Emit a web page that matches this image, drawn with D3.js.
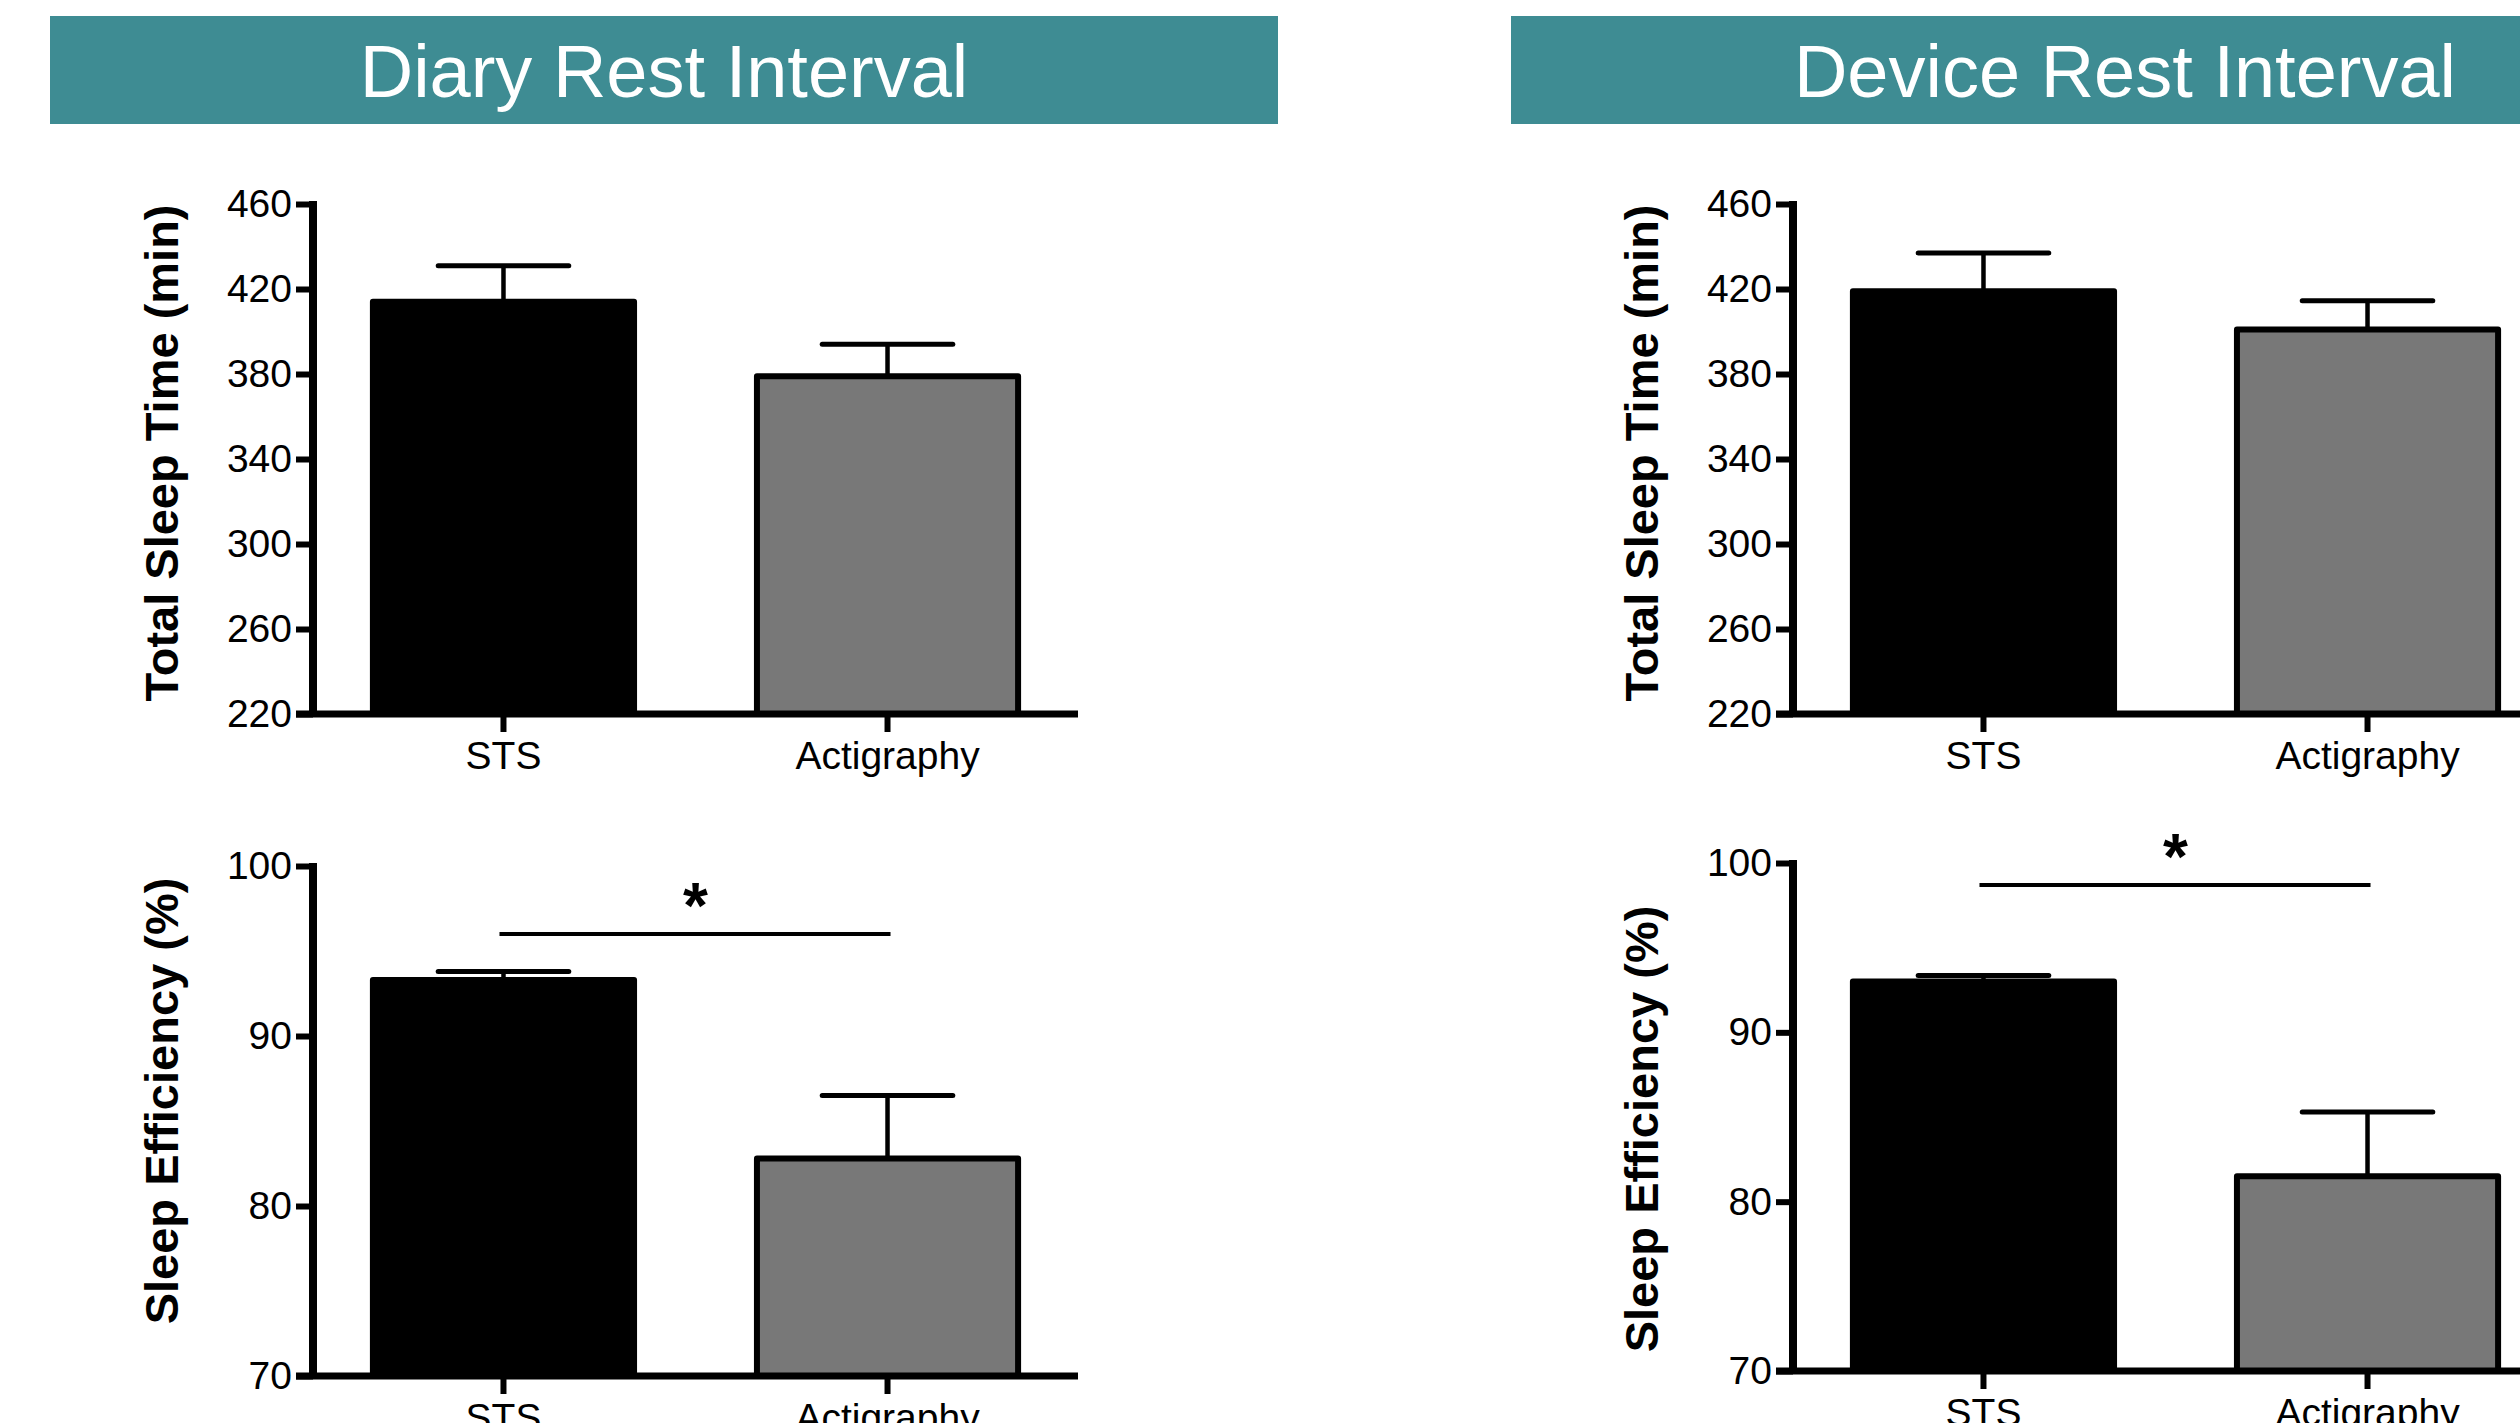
<html>
<head>
    <style>
        body { margin: 0; background: #fff; }
        svg { display: block; }
        .narrow { font-family: "Liberation Sans Narrow", "Arial Narrow", "Liberation Sans", sans-serif; }
    </style>
    <script src="https://cdn.jsdelivr.net/npm/d3@7"></script>
</head>
<body>
    <svg id="container" width="2520" height="1423"></svg>
</body>
<script>
    // values
    let panels = ["Diary Rest Interval", "Device Rest Interval"]
    let categories = ["STS", "Actigraphy"]

    let tstTicks = [220, 260, 300, 340, 380, 420, 460]
    let seTicks = [70, 80, 90, 100]

    let tstDiary = [414, 379]
    let tstDiarySem = [17, 15]
    let tstDevice = [419, 401]
    let tstDeviceSem = [18, 13.5]

    let seDiary = [93.3, 82.8]
    let seDiarySem = [0.5, 3.7]
    let seDevice = [93.0, 81.5]
    let seDeviceSem = [0.35, 3.8]

    // significance bar level (in %) above the sleep efficiency bars
    let seSigLevel = [96.0, 98.7]

    let barColors = ["#000000", "#787878"]

    let svg = d3.select("#container")

    // banners
    let bannerX = [50, 1511]
    let bannerW = 1228
    panels.forEach((p, i) => {
        svg.append("rect")
            .attr("x", bannerX[i]).attr("y", 16)
            .attr("width", bannerW).attr("height", 108)
            .attr("fill", "#3e8c93")
        svg.append("text")
            .attr("class", "narrow")
            .attr("x", bannerX[i] + bannerW / 2).attr("y", 97)
            .attr("text-anchor", "middle")
            .attr("fill", "#fff")
            .attr("font-size", 74)
            .text(p)
    })

    let plotW = 765

    function drawPanel(opt) {
        let g = svg.append("g").attr("transform", "translate(" + opt.x + " " + opt.top + ")")
        let h = opt.h

        let x = d3.scaleBand()
            .domain(categories)
            .range([0, plotW])
            .paddingInner(0.32)
            .paddingOuter(0.156)

        let y = d3.scaleLinear()
            .domain(d3.extent(opt.ticks))
            .range([h, 0])

        let bars = categories.map((c, i) => ({ cat: c, v: opt.values[i], sem: opt.sem[i], color: barColors[i] }))

        // bars
        g.selectAll(".bar")
            .data(bars)
            .enter()
            .append("rect")
            .attr("x", d => x(d.cat))
            .attr("y", d => y(d.v))
            .attr("width", x.bandwidth())
            .attr("height", d => h - y(d.v))
            .attr("fill", d => d.color)
            .attr("stroke", "#000")
            .attr("stroke-width", 6)
            .attr("stroke-linejoin", "round")

        // error bars (upper only)
        let cap = x.bandwidth() * 0.5
        let eb = g.selectAll(".err").data(bars).enter().append("g")
        eb.append("line")
            .attr("x1", d => x(d.cat) + x.bandwidth() / 2)
            .attr("x2", d => x(d.cat) + x.bandwidth() / 2)
            .attr("y1", d => y(d.v))
            .attr("y2", d => y(d.v + d.sem))
            .attr("stroke", "#000").attr("stroke-width", 4.5)
        eb.append("line")
            .attr("x1", d => x(d.cat) + x.bandwidth() / 2 - cap / 2)
            .attr("x2", d => x(d.cat) + x.bandwidth() / 2 + cap / 2)
            .attr("y1", d => y(d.v + d.sem))
            .attr("y2", d => y(d.v + d.sem))
            .attr("stroke", "#000").attr("stroke-width", 5)
            .attr("stroke-linecap", "round")

        // axes
        let yAxis = g.append("g")
            .call(d3.axisLeft(y).tickValues(opt.ticks).tickSize(17).tickPadding(4).tickFormat(d3.format("d")))
        let xAxis = g.append("g")
            .attr("transform", "translate(0 " + h + ")")
            .call(d3.axisBottom(x).tickSize(18).tickPadding(9))

        ;[yAxis, xAxis].forEach(a => {
            a.select(".domain").remove()
            a.selectAll("line").attr("stroke", "#000").attr("stroke-width", 6)
            a.selectAll("text")
                .attr("class", "narrow")
                .attr("font-size", 39)
                .attr("fill", "#000")
            a.attr("font-family", null).attr("font-size", null)
        })
        g.append("line")
            .attr("x1", 0).attr("x2", 0).attr("y1", -3).attr("y2", h + 3)
            .attr("stroke", "#000").attr("stroke-width", 8)
        g.append("line")
            .attr("x1", -17).attr("x2", plotW).attr("y1", h).attr("y2", h)
            .attr("stroke", "#000").attr("stroke-width", 7)

        // y title
        g.append("text")
            .attr("transform", "translate(" + (-135) + " " + (h / 2 + opt.titleShift) + ") rotate(-90)")
            .attr("text-anchor", "middle")
            .attr("font-family", "Liberation Sans, Arial, sans-serif")
            .attr("font-weight", "bold")
            .attr("font-size", 47)
            .attr("fill", "#000")
            .text(opt.title)

        // significance marker
        if (opt.sig !== undefined) {
            let cx = categories.map(c => x(c) + x.bandwidth() / 2)
            g.append("line")
                .attr("x1", cx[0] - 4).attr("x2", cx[1] + 3)
                .attr("y1", y(opt.sig)).attr("y2", y(opt.sig))
                .attr("stroke", "#000").attr("stroke-width", 4)
            g.append("text")
                .attr("x", (cx[0] + cx[1]) / 2)
                .attr("y", y(opt.sig) - 6)
                .attr("text-anchor", "middle")
                .attr("font-family", "Liberation Sans, Arial, sans-serif")
                .attr("font-weight", "bold")
                .attr("font-size", 64)
                .text("*")
        }
    }

    drawPanel({ x: 313, top: 204, h: 510, ticks: tstTicks, values: tstDiary, sem: tstDiarySem, title: "Total Sleep Time (min)", titleShift: -6 })
    drawPanel({ x: 1793, top: 204, h: 510, ticks: tstTicks, values: tstDevice, sem: tstDeviceSem, title: "Total Sleep Time (min)", titleShift: -6 })
    drawPanel({ x: 313, top: 866, h: 510, ticks: seTicks, values: seDiary, sem: seDiarySem, title: "Sleep Efficiency (%)", titleShift: -20, sig: seSigLevel[0] })
    drawPanel({ x: 1793, top: 863, h: 508, ticks: seTicks, values: seDevice, sem: seDeviceSem, title: "Sleep Efficiency (%)", titleShift: 12, sig: seSigLevel[1] })
</script>
</html>
